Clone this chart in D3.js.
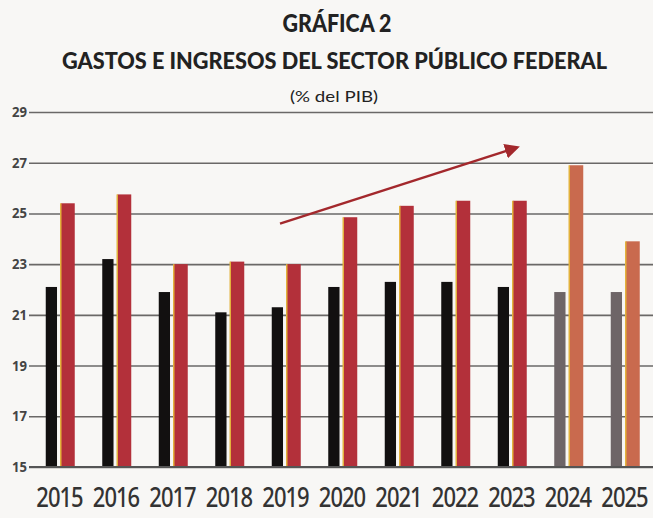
<!DOCTYPE html>
<html><head><meta charset="utf-8">
<script src="https://cdn.jsdelivr.net/npm/d3@7"></script>
<style>
html,body{margin:0;padding:0;background:#f8f7f5;}
svg{display:block;}
</style></head>
<body>
<svg id="chart" width="653" height="518"></svg>
<script>
const years = ["2015","2016","2017","2018","2019","2020","2021","2022","2023","2024","2025"];
const ingresos = [22.1, 23.2, 21.9, 21.1, 21.3, 22.1, 22.3, 22.3, 22.1, 21.9, 21.9];
const gastos   = [25.4, 25.75, 23.0, 23.1, 23.0, 24.85, 25.3, 25.5, 25.5, 26.9, 23.9];
const projected = ["2024","2025"];
const yTicks = [15, 17, 19, 21, 23, 25, 27, 29];
const arrowFrom = {year: "2019", value: 24.6};
const arrowTo   = {year: "2023", value: 27.6};
const titleLines = ["GRÁFICA 2", "GASTOS E INGRESOS DEL SECTOR PÚBLICO FEDERAL", "(% del PIB)"];

const svg = d3.select("#chart");
const W = 653;
const x = d3.scaleBand().domain(years).range([31.75, 653.25]).padding(0);
const y = d3.scaleLinear().domain([15, 29]).range([467, 112]);
const xs = d3.scaleBand().domain(["ingresos","gastos"]).range([14, 43]).paddingInner(0.1);
const numFont = "'Noto Sans', 'Open Sans', sans-serif";

// title
svg.append("text").attr("x", 337).attr("y", 32).attr("text-anchor","middle")
  .attr("font-family","Lato").attr("font-weight",900).attr("font-size",24)
  .attr("fill","#222").attr("textLength",109).attr("lengthAdjust","spacingAndGlyphs")
  .text(titleLines[0]);
svg.append("text").attr("x", 334.5).attr("y", 69).attr("text-anchor","middle")
  .attr("font-family","Lato").attr("font-weight",900).attr("font-size",22)
  .attr("fill","#222").attr("textLength",545).attr("lengthAdjust","spacingAndGlyphs")
  .text(titleLines[1]);
svg.append("text").attr("x", 334).attr("y", 102).attr("text-anchor","middle")
  .attr("font-family","Lato").attr("font-weight",400).attr("font-size",15)
  .attr("fill","#222").attr("textLength",88).attr("lengthAdjust","spacingAndGlyphs")
  .text(titleLines[2]);

// grid
const yAxis = d3.axisLeft(y).tickValues(yTicks).tickSize(-(W - 29)).tickPadding(2);
const gy = svg.append("g").attr("transform","translate(29,0)").call(yAxis);
gy.select(".domain").remove();
gy.selectAll(".tick line").attr("stroke","#6a6867").attr("stroke-width",1.6);
gy.selectAll(".tick text").attr("font-family",numFont).attr("font-weight",700).attr("font-size",14)
  .attr("fill","#444").attr("textLength",15).attr("lengthAdjust","spacingAndGlyphs");

// bars
const data = years.map((yr,i)=>({year:yr, ingresos:ingresos[i], gastos:gastos[i], proj: projected.includes(yr)}));
const g = svg.append("g");
g.selectAll("rect.ing").data(data).join("rect").attr("class","ing")
  .attr("x", d => x(d.year) + xs("ingresos"))
  .attr("width", xs.bandwidth() * 0.82)
  .attr("y", d => y(d.ingresos))
  .attr("height", d => y(15) - y(d.ingresos))
  .attr("fill", d => d.proj ? "#6e6567" : "#121010");
g.selectAll("rect.gas").data(data).join("rect").attr("class","gas")
  .attr("x", d => x(d.year) + xs("gastos"))
  .attr("width", xs.bandwidth())
  .attr("y", d => y(d.gastos))
  .attr("height", d => y(15) - y(d.gastos))
  .attr("fill", d => d.proj ? "#c96a4e" : "#b3303a");
g.selectAll("rect.edge").data(data).join("rect").attr("class","edge")
  .attr("x", d => x(d.year) + xs("gastos") - 1)
  .attr("width", 1.5)
  .attr("y", d => y(d.gastos))
  .attr("height", d => y(15) - y(d.gastos))
  .attr("fill", "#e3b23c");

// baseline redraw
svg.append("line").attr("x1",29).attr("x2",W).attr("y1",y(15)).attr("y2",y(15))
  .attr("stroke","#555").attr("stroke-width",1.8);

// arrow
const defs = svg.append("defs");
defs.append("marker").attr("id","ah").attr("viewBox","0 0 10 10").attr("refX",8).attr("refY",5)
  .attr("markerWidth",6).attr("markerHeight",6).attr("orient","auto")
  .append("path").attr("d","M0,0L10,5L0,10z").attr("fill","#a3282c");
svg.append("line")
  .attr("x1", x(arrowFrom.year) + x.bandwidth()/2 - 6).attr("y1", y(arrowFrom.value))
  .attr("x2", x(arrowTo.year) + x.bandwidth()/2 + 5).attr("y2", y(arrowTo.value))
  .attr("stroke","#a3282c").attr("stroke-width",2.5).attr("marker-end","url(#ah)");

// x labels
svg.append("g").selectAll("text").data(years).join("text")
  .attr("transform", d => `translate(${x(d) + x.bandwidth()/2 - 0.5},507) scale(1,1.2)`)
  .attr("text-anchor","middle").attr("font-family",numFont).attr("font-weight",500)
  .attr("font-size",22).attr("letter-spacing","-1px").attr("fill","#333")
  .text(d => d);
</script>
</body></html>
